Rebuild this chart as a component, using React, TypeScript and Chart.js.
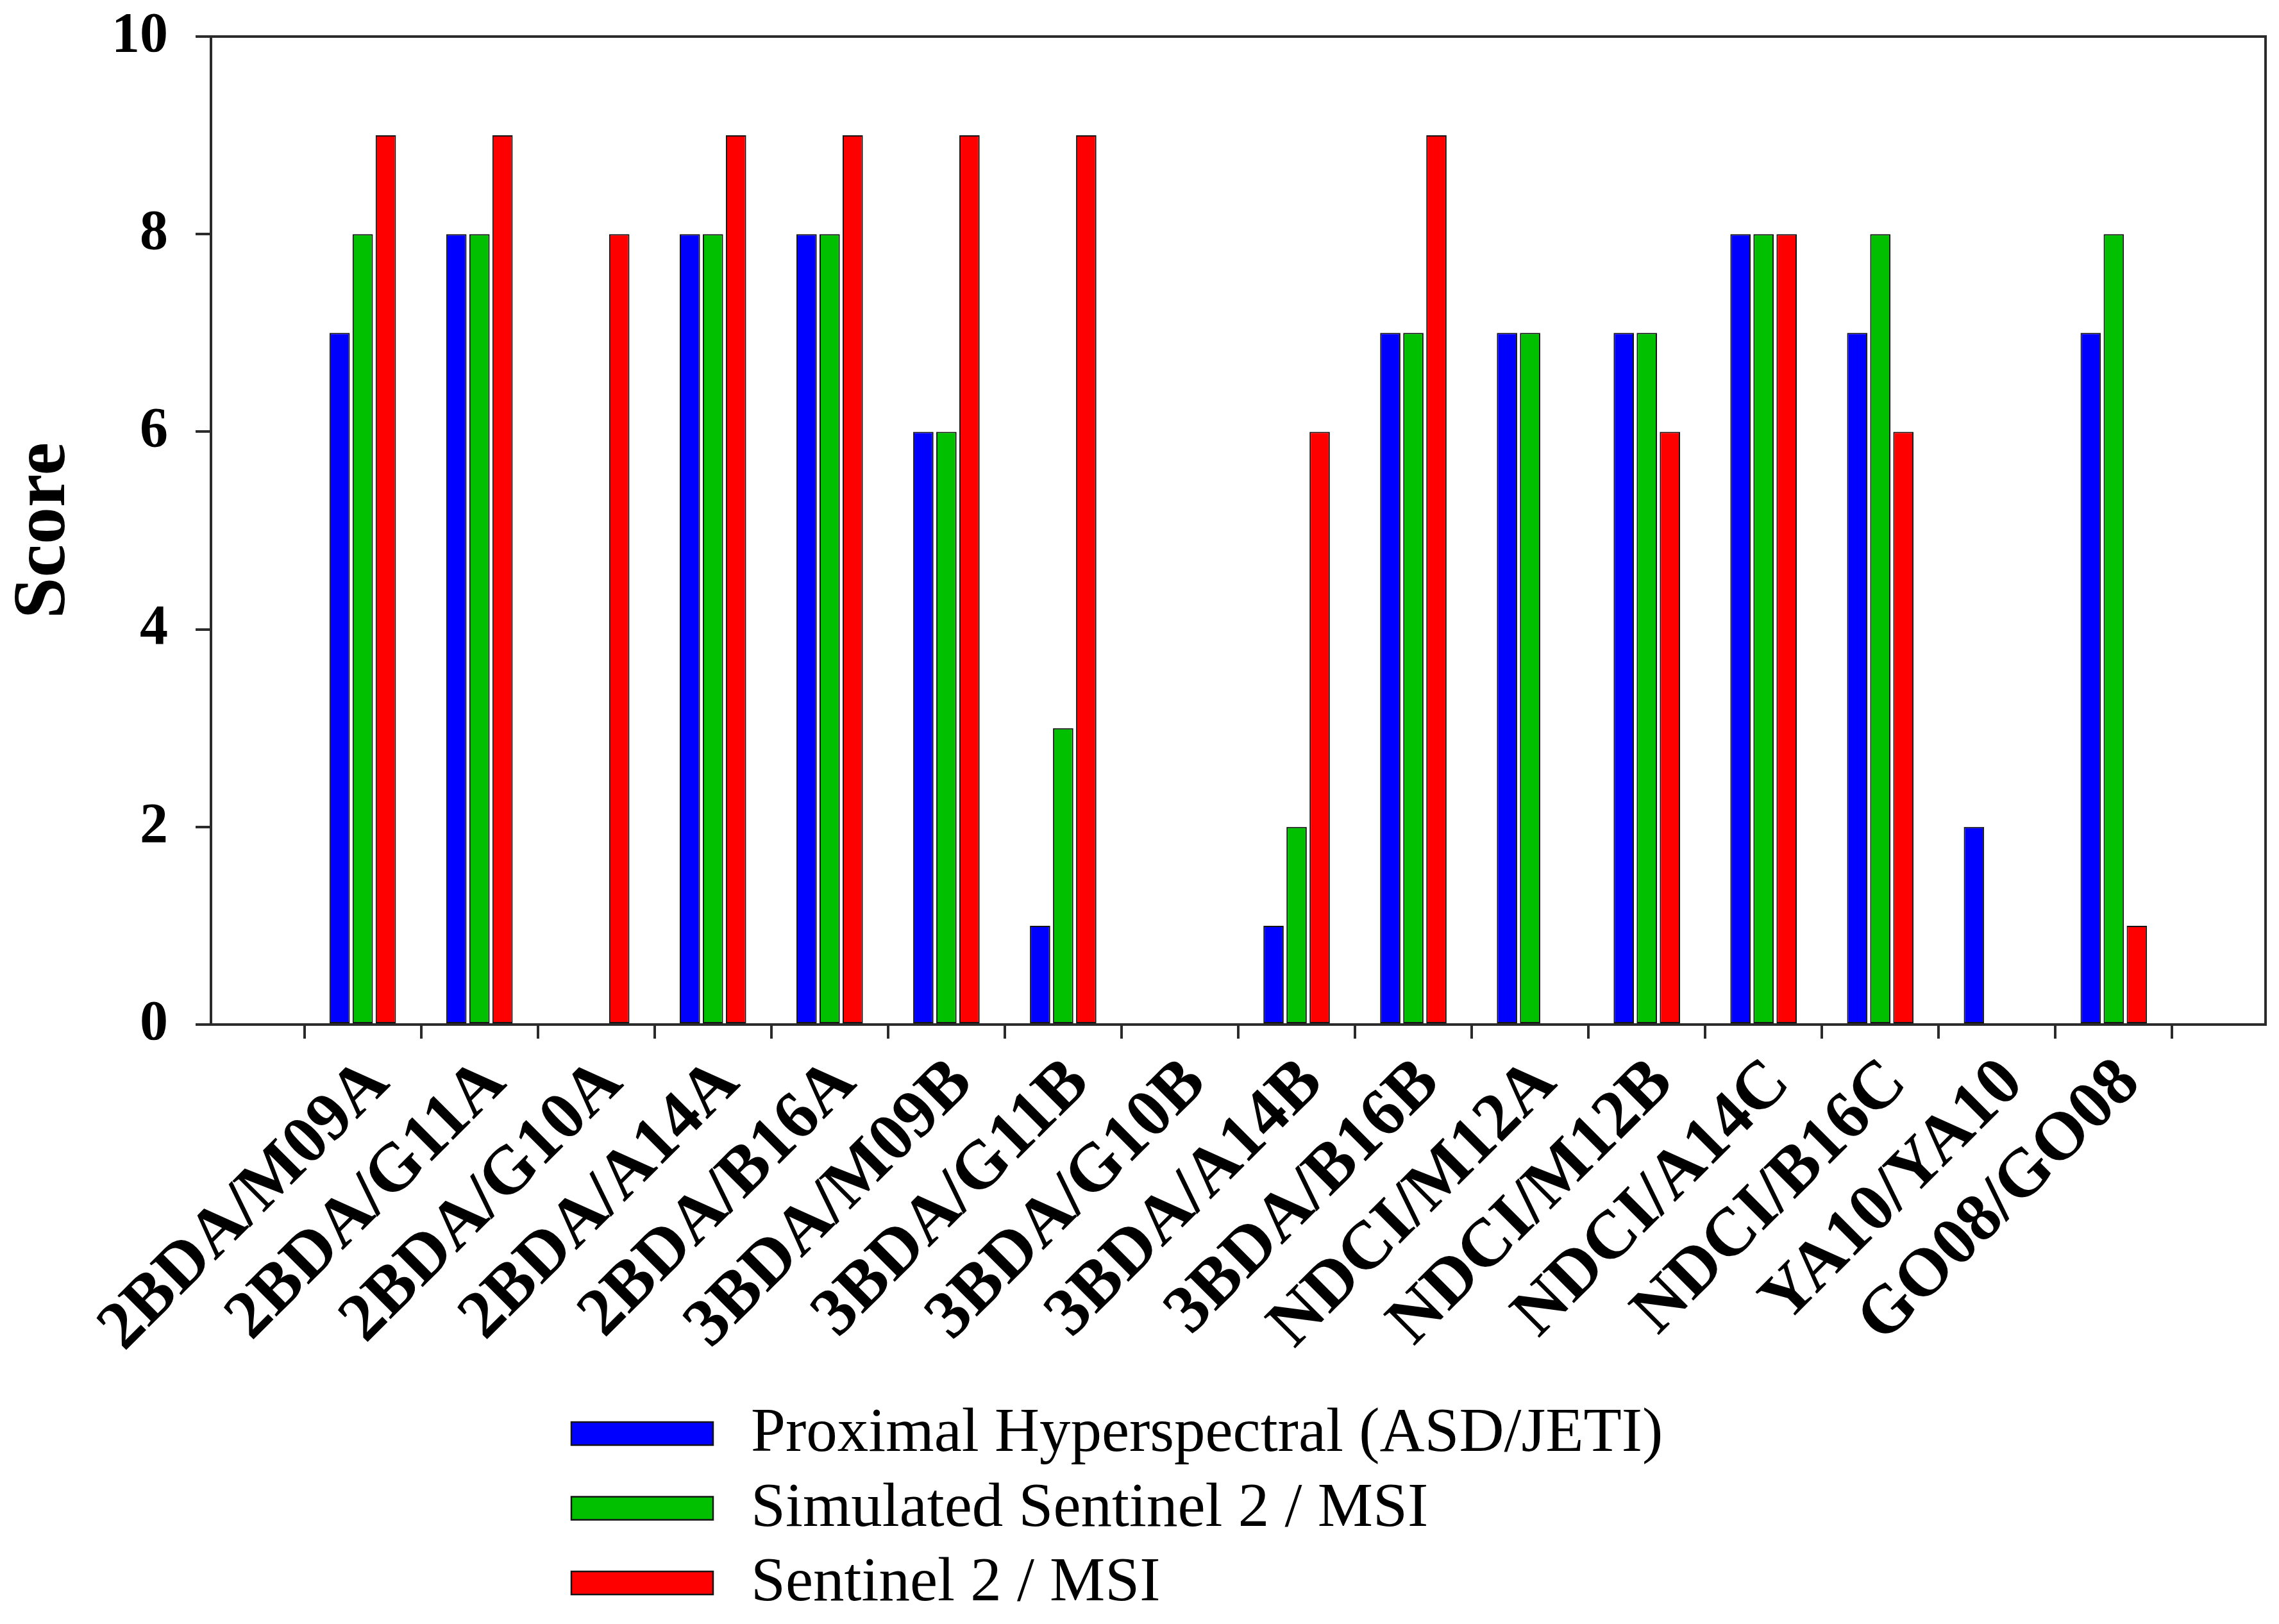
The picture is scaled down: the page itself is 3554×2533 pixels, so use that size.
import React, { useEffect, useRef } from 'react';
import { Chart, registerables } from 'chart.js';

Chart.register(...registerables);

const CATEGORIES = [
  '2BDA/M09A', '2BDA/G11A', '2BDA/G10A', '2BDA/A14A', '2BDA/B16A',
  '3BDA/M09B', '3BDA/G11B', '3BDA/G10B', '3BDA/A14B', '3BDA/B16B',
  'NDCI/M12A', 'NDCI/M12B', 'NDCI/A14C', 'NDCI/B16C', 'YA10/YA10', 'GO08/GO08',
];
const PROXIMAL = [7, 8, 0, 8, 8, 6, 1, 0, 1, 7, 7, 7, 8, 7, 2, 7];
const SIMULATED = [8, 8, 0, 8, 8, 6, 3, 0, 2, 7, 7, 7, 8, 8, 0, 8];
const SENTINEL = [9, 9, 8, 9, 9, 9, 9, 0, 6, 9, 0, 6, 8, 6, 0, 1];
const SERIES_LABELS = [
  'Proximal Hyperspectral (ASD/JETI)',
  'Simulated Sentinel 2 / MSI',
  'Sentinel 2 / MSI',
];
const SERIES_COLORS = ['#0000FF', '#00C000', '#FF0000'];
const Y_TICKS = [0, 2, 4, 6, 8, 10];
const Y_TITLE = 'Score';

const W = 3554;
const H = 2533;
const SERIF = '"Liberation Serif", "Times New Roman", serif';
const AXIS_COLOR = '#2b2b2b';

const framePlugin = {
  id: 'frame',
  afterDraw(chart: any) {
    const { ctx, chartArea } = chart;
    ctx.save();
    ctx.strokeStyle = AXIS_COLOR;
    ctx.lineWidth = 4;
    ctx.strokeRect(chartArea.left, chartArea.top, chartArea.right - chartArea.left, chartArea.bottom - chartArea.top);
    ctx.restore();
  },
};

const legendPlugin = {
  id: 'stackedLegend',
  afterDraw(chart: any) {
    const { ctx } = chart;
    ctx.save();
    chart.data.datasets.forEach((ds: any, i: number) => {
      const cy = 2236 + i * 116.5;
      ctx.fillStyle = ds.backgroundColor;
      ctx.fillRect(891, cy - 18, 221, 36);
      ctx.strokeStyle = '#141414';
      ctx.lineWidth = 2.5;
      ctx.strokeRect(891, cy - 18, 221, 36);
      ctx.fillStyle = '#000';
      ctx.font = `97px ${SERIF}`;
      ctx.textBaseline = 'middle';
      ctx.textAlign = 'left';
      ctx.fillText(ds.label, 1171, cy + 2);
    });
    ctx.restore();
  },
};

export default function App() {
  const ref = useRef<HTMLCanvasElement | null>(null);

  useEffect(() => {
    if (!ref.current) return;
    const series = [PROXIMAL, SIMULATED, SENTINEL];
    const datasets = series.map((vals, s) => ({
      label: SERIES_LABELS[s],
      data: vals.map((v, i) => ({ x: i + 1, y: v })),
      backgroundColor: SERIES_COLORS[s],
      borderColor: '#141414',
      borderWidth: 2,
      borderSkipped: false as const,
      categoryPercentage: 0.593,
      barPercentage: 0.88,
    }));
    const xTicks = [0, ...CATEGORIES.map((_, i) => i + 1), CATEGORIES.length + 1];

    const chart = new Chart(ref.current, {
      type: 'bar',
      data: { datasets },
      options: {
        animation: false,
        responsive: false,
        devicePixelRatio: 1,
        layout: { padding: { top: 57, right: 21, bottom: 0, left: 0 } },
        plugins: {
          legend: { display: false },
          tooltip: { enabled: false },
        },
        scales: {
          x: {
            type: 'linear',
            min: -0.3,
            max: CATEGORIES.length + 1.3,
            offset: false,
            afterBuildTicks: (scale: any) => {
              scale.ticks = xTicks.map((v) => ({ value: v }));
            },
            afterFit: (scale: any) => {
              scale.height = 935;
              scale.paddingLeft = 0;
              scale.paddingRight = 0;
            },
            grid: {
              drawOnChartArea: false,
              drawTicks: true,
              tickLength: 22,
              lineWidth: 4,
              color: AXIS_COLOR,
            },
            border: { display: false },
            ticks: {
              autoSkip: false,
              maxRotation: 45,
              minRotation: 45,
              padding: 8,
              labelOffset: 25,
              color: '#000',
              font: { family: SERIF, size: 106, weight: 'bold' },
              callback: (v: any) => CATEGORIES[Number(v) - 1] ?? '',
            },
          },
          y: {
            min: 0,
            max: 10,
            afterBuildTicks: (scale: any) => {
              scale.ticks = Y_TICKS.map((v) => ({ value: v }));
            },
            afterFit: (scale: any) => {
              scale.width = 329;
              scale.paddingTop = 0;
              scale.paddingBottom = 0;
            },
            grid: {
              drawOnChartArea: false,
              drawTicks: true,
              tickLength: 24,
              lineWidth: 4,
              color: AXIS_COLOR,
            },
            border: { display: false },
            ticks: {
              padding: 43,
              color: '#000',
              font: { family: SERIF, size: 88, weight: 'bold' },
            },
            title: {
              display: true,
              text: Y_TITLE,
              color: '#000',
              padding: 0,
              font: { family: SERIF, size: 116, weight: 'bold' },
            },
          },
        },
      },
      plugins: [framePlugin, legendPlugin],
    });
    return () => chart.destroy();
  }, []);

  return (
    <div style={{ position: 'fixed', left: 0, top: 0, width: W, height: H, background: '#fff' }}>
      <canvas ref={ref} width={W} height={H} style={{ display: 'block', width: W, height: H }} />
    </div>
  );
}
